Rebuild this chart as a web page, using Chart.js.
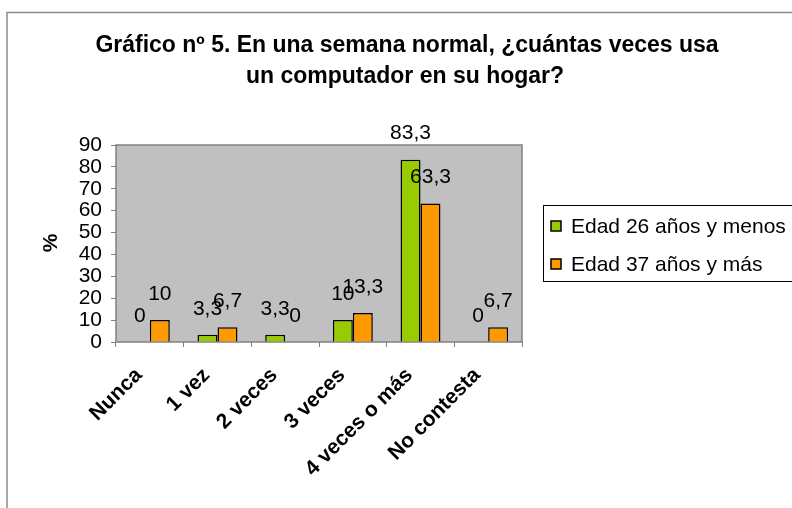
<!DOCTYPE html>
<html><head><meta charset="utf-8">
<script src="https://cdn.jsdelivr.net/npm/chart.js@4/dist/chart.umd.min.js"></script>
<style>html,body{margin:0;padding:0;background:#fff}#wrap{width:792px;height:508px}</style>
</head><body><div id="wrap"><canvas id="c" width="792" height="508"></canvas></div>
<script>
const categories = ["Nunca", "1 vez", "2 veces", "3 veces", "4 veces o más", "No contesta"];
const seriesYoung = [0, 3.3, 3.3, 10, 83.3, 0];
const seriesOld = [10, 6.7, 0, 13.3, 63.3, 6.7];
const seriesNames = ["Edad 26 años y menos", "Edad 37 años y más"];
const yTicks = [0, 10, 20, 30, 40, 50, 60, 70, 80, 90];
const titleLines = ["Gráfico nº 5. En una semana normal, ¿cuántas veces usa", "un computador en su hogar?"];

const FONT = "Arial, 'Liberation Sans', sans-serif";
const PAD_L = 30, PAD_T = 145, PAD_R = 270, PAD_B = 0;

const decor = {
  id: 'decor',
  beforeDraw(chart) {
    const ctx = chart.ctx, a = chart.chartArea;
    ctx.save();
    ctx.fillStyle = '#fff';
    ctx.fillRect(0, 0, chart.width, chart.height);
    ctx.strokeStyle = '#8c8c8c';
    ctx.lineWidth = 1.5;
    ctx.beginPath();
    ctx.moveTo(7, 510); ctx.lineTo(7, 12.5); ctx.lineTo(800, 12.5);
    ctx.stroke();
    ctx.fillStyle = '#c0c0c0';
    ctx.fillRect(a.left, a.top, a.right - a.left, a.bottom - a.top);
    ctx.strokeStyle = '#808080';
    ctx.lineWidth = 1.5;
    ctx.strokeRect(a.left, a.top, a.right - a.left, a.bottom - a.top);
    ctx.restore();
  },
  afterDatasetsDraw(chart) {
    const ctx = chart.ctx;
    ctx.save();
    ctx.fillStyle = '#000';
    ctx.font = "21px " + FONT;
    ctx.textAlign = 'center';
    ctx.textBaseline = 'middle';
    chart.data.datasets.forEach((ds, i) => {
      chart.getDatasetMeta(i).data.forEach((el, j) => {
        const v = ds.data[j];
        ctx.fillText(String(v).replace('.', ','), el.x, el.y - 26);
      });
    });
    ctx.font = "bold 23px " + FONT;
    ctx.fillText(titleLines[0], 407, 46);
    ctx.fillText(titleLines[1], 405, 77);
    ctx.save();
    ctx.translate(51, 243);
    ctx.rotate(-Math.PI / 2);
    ctx.font = "bold 21px " + FONT;
    ctx.fillText('%', 0, 0);
    ctx.restore();
    ctx.strokeStyle = '#000';
    ctx.lineWidth = 1;
    ctx.strokeRect(543.5, 205.5, 300, 76);
    ctx.textAlign = 'left';
    ctx.font = "21px " + FONT;
    const ys = [226, 264];
    chart.data.datasets.forEach((ds, i) => {
      ctx.fillStyle = ds.backgroundColor;
      ctx.fillRect(551, ys[i] - 5, 10, 10);
      ctx.lineWidth = 1.5;
      ctx.strokeRect(551, ys[i] - 5, 10, 10);
      ctx.fillStyle = '#000';
      ctx.fillText(ds.label, 571, ys[i] + 1);
    });
    ctx.restore();
  }
};

new Chart(document.getElementById('c'), {
  type: 'bar',
  data: {
    labels: categories,
    datasets: [
      { label: seriesNames[0], data: seriesYoung, backgroundColor: '#99cc00', borderColor: '#000', borderWidth: 1.5 },
      { label: seriesNames[1], data: seriesOld, backgroundColor: '#ff9900', borderColor: '#000', borderWidth: 1.5 }
    ]
  },
  options: {
    responsive: false,
    animation: false,
    devicePixelRatio: 1,
    layout: { padding: { left: PAD_L, top: PAD_T, right: PAD_R, bottom: PAD_B } },
    plugins: { legend: { display: false }, title: { display: false }, tooltip: { enabled: false } },
    datasets: { bar: { categoryPercentage: 0.59, barPercentage: 1 } },
    scales: {
      x: {
        offset: true,
        grid: { display: true, drawOnChartArea: false, tickLength: 5, color: '#808080', offset: true },
        border: { display: false },
        ticks: { maxRotation: 45, minRotation: 45, autoSkip: false, padding: 16, labelOffset: -11, color: '#000', font: { family: FONT, size: 21, weight: 'bold' } },
        afterFit(s) { s.height = 508 - 342 - PAD_B; }
      },
      y: {
        min: 0, max: 90,
        afterBuildTicks(s) { s.ticks = yTicks.map(v => ({ value: v })); },
        grid: { display: true, drawOnChartArea: false, tickLength: 5, color: '#808080' },
        border: { display: false },
        ticks: { padding: 9, autoSkip: false, color: '#000', font: { family: FONT, size: 21 } },
        afterFit(s) { s.width = 116 - PAD_L; }
      }
    }
  },
  plugins: [decor]
});
</script>
</body></html>
